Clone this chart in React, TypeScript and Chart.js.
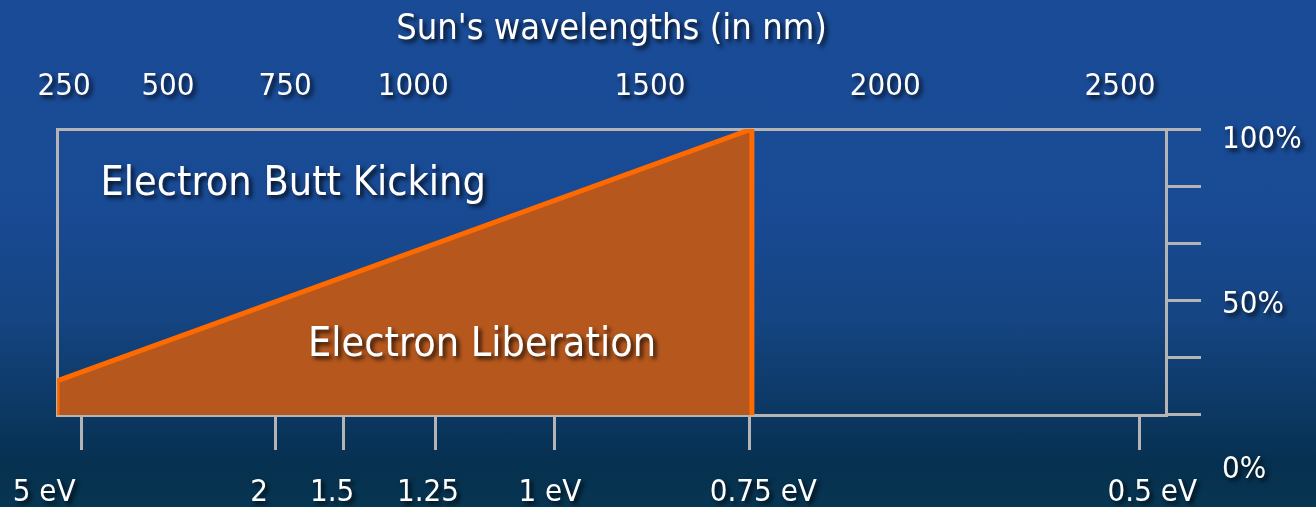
import React, { useEffect, useRef } from 'react';
import { Chart, registerables } from 'chart.js';

Chart.register(...registerables);

// ---- data (wavelengths in nm, share in %) ----
const WL_MIN = 197;
const WL_MAX = 2535;

const wavelengthLabels = ['250', '500', '750', '1000', '1500', '2000', '2500'];
const wavelengthLabelAt = [212, 431, 678, 948, 1447, 1943, 2438];

const energyTickAt = [248, 657, 802, 994, 1245, 1656, 2480];
const energyLabels = ['5 eV', '2', '1.5', '1.25', '1 eV', '0.75 eV', '0.5 eV'];
const energyLabelAt = [170, 623, 777, 979, 1236, 1686, 2506];

const shareTicks = [100, 83.33, 66.67, 50, 33.33, 16.67];
const shareLabels = ['100%', '50%', '0%'];
const shareLabelValues = [100, 50, 0];

const liberationWavelengths = [197, 197, 1662, 1662];
const liberationShare = [16.67, 26.6, 100, 16.67];

const annotationTexts = ['Electron Butt Kicking', 'Electron Liberation'];
const annotationWavelengths = [695, 1093];
const annotationShares = [84, 37.1];

const GRAY = '#b4b4b4';
const FONT = '"DejaVu Sans Condensed", "DejaVu Sans", sans-serif';

export default function App() {
  const ref = useRef<HTMLCanvasElement | null>(null);

  useEffect(() => {
    const canvas = ref.current;
    if (!canvas) return;

    const shadowOn = (ctx: CanvasRenderingContext2D) => {
      ctx.shadowColor = 'rgba(0,0,0,0.8)';
      ctx.shadowOffsetX = 3;
      ctx.shadowOffsetY = 3;
      ctx.shadowBlur = 4;
    };

    const textShadowPlugin = {
      id: 'textShadow',
      afterDatasetsDraw(chart: any) {
        chart.ctx.save();
        shadowOn(chart.ctx);
      },
      afterDraw(chart: any) {
        const ctx = chart.ctx as CanvasRenderingContext2D;
        ctx.restore();
        ctx.save();
        shadowOn(ctx);
        ctx.fillStyle = '#ffffff';
        ctx.font = `41px ${FONT}`;
        ctx.textAlign = 'center';
        ctx.textBaseline = 'middle';
        const xs = chart.scales.x;
        const ys = chart.scales.y;
        annotationTexts.forEach((t, i) => {
          ctx.fillText(t, xs.getPixelForValue(annotationWavelengths[i]), ys.getPixelForValue(annotationShares[i]));
        });
        ctx.restore();
      },
    };

    const labelFont = { family: FONT, size: 31 };
    const noPad = (s: any) => { s.paddingLeft = 0; s.paddingRight = 0; };

    const chart = new Chart(canvas, {
      type: 'line',
      data: {
        datasets: [
          {
            data: liberationWavelengths.map((x, i) => ({ x, y: liberationShare[i] })),
            xAxisID: 'x',
            yAxisID: 'y',
            borderColor: '#ff6a00',
            borderWidth: 5,
            backgroundColor: 'rgb(182,88,30)',
            fill: 'start',
            pointRadius: 0,
            tension: 0,
          },
        ],
      },
      options: {
        responsive: false,
        animation: false,
        events: [],
        layout: { padding: 0 },
        plugins: { legend: { display: false }, tooltip: { enabled: false } },
        scales: {
          x: {
            type: 'linear',
            position: 'bottom',
            weight: 0,
            min: WL_MIN,
            max: WL_MAX,
            afterBuildTicks: (s: any) => { s.ticks = energyTickAt.map((v) => ({ value: v })); },
            afterFit: (s: any) => { s.height = 35; noPad(s); },
            ticks: { display: false },
            grid: { drawOnChartArea: false, drawTicks: true, tickLength: 35, color: GRAY, lineWidth: 3 },
            border: { display: true, color: GRAY, width: 3 },
          },
          xl: {
            type: 'linear',
            position: 'bottom',
            weight: 1,
            min: WL_MIN,
            max: WL_MAX,
            afterBuildTicks: (s: any) => { s.ticks = energyLabelAt.map((v) => ({ value: v })); },
            afterFit: (s: any) => { s.height = 57; noPad(s); },
            ticks: {
              z: 1,
              color: '#ffffff',
              font: labelFont,
              padding: 24,
              autoSkip: false,
              maxRotation: 0,
              callback: (_v: any, i: number) => energyLabels[i],
            },
            grid: { display: false, drawTicks: false },
            border: { display: false },
          },
          xt: {
            type: 'linear',
            position: 'top',
            weight: 0,
            min: WL_MIN,
            max: WL_MAX,
            afterFit: (s: any) => { s.height = 0; noPad(s); },
            ticks: { display: false },
            grid: { display: false, drawTicks: false },
            border: { display: true, color: GRAY, width: 3 },
          },
          x2: {
            type: 'linear',
            position: 'top',
            weight: 1,
            min: WL_MIN,
            max: WL_MAX,
            afterBuildTicks: (s: any) => { s.ticks = wavelengthLabelAt.map((v) => ({ value: v })); },
            afterFit: (s: any) => { s.height = 129; noPad(s); },
            ticks: {
              z: 1,
              color: '#ffffff',
              font: labelFont,
              padding: 23,
              autoSkip: false,
              maxRotation: 0,
              callback: (_v: any, i: number) => wavelengthLabels[i],
            },
            grid: { display: false, drawTicks: false, z: 1 },
            border: { display: false },
            title: {
              display: true,
              text: "Sun's wavelengths (in nm)",
              color: '#ffffff',
              font: { family: FONT, size: 36 },
              padding: { top: 8, bottom: 0 },
            },
          },
          yb: {
            type: 'linear',
            position: 'left',
            min: 100 / 6,
            max: 100,
            afterFit: (s: any) => { s.width = 57; },
            ticks: { display: false },
            grid: { display: false, drawTicks: false },
            border: { display: true, color: GRAY, width: 3 },
          },
          y: {
            type: 'linear',
            position: 'right',
            weight: 0,
            min: 100 / 6,
            max: 100,
            afterBuildTicks: (s: any) => { s.ticks = shareTicks.map((v) => ({ value: v })); },
            afterFit: (s: any) => { s.width = 35; },
            ticks: { display: false },
            grid: { drawOnChartArea: false, drawTicks: true, tickLength: 35, color: GRAY, lineWidth: 3 },
            border: { display: true, color: GRAY, width: 3 },
          },
          yl: {
            type: 'linear',
            position: 'right',
            weight: 1,
            min: 16.66,
            max: 103.34,
            afterBuildTicks: (s: any) => { s.ticks = shareLabelValues.map((v) => ({ value: v })); },
            afterFit: (s: any) => { s.width = 115; },
            ticks: {
              z: 1,
              color: '#ffffff',
              font: labelFont,
              padding: 21,
              autoSkip: false,
              callback: (_v: any, i: number) => shareLabels[i],
            },
            grid: { display: false, drawTicks: false },
            border: { display: false },
          },
        },
      },
      plugins: [textShadowPlugin],
    } as any);

    return () => chart.destroy();
  }, []);

  return (
    <div
      style={{
        position: 'fixed',
        left: 0,
        top: 0,
        width: 1316,
        height: 507,
        overflow: 'hidden',
        background:
          'linear-gradient(to bottom, #1a4b96 0%, #194a94 40%, #154583 62%, #0d3a68 78%, #06304f 92%, #073652 100%)',
      }}
    >
      <canvas ref={ref} width={1316} height={507} style={{ display: 'block' }} />
    </div>
  );
}
